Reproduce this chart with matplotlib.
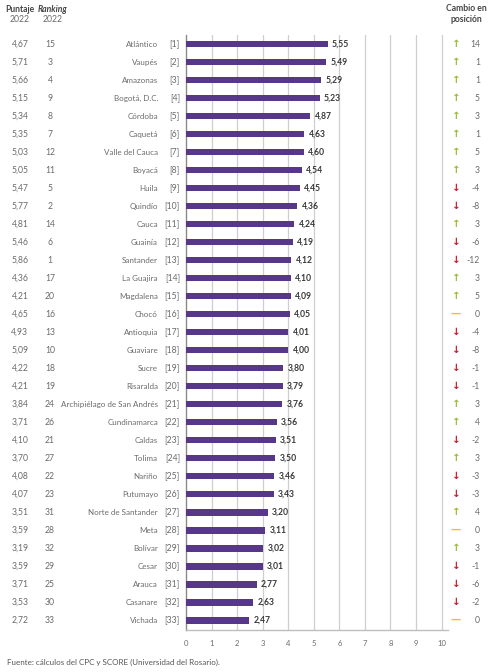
import numpy as np
import matplotlib.pyplot as plt

names = ['Atlántico', 'Vaupés', 'Amazonas', 'Bogotá, D.C.', 'Córdoba', 'Caquetá',
         'Valle del Cauca', 'Boyacá', 'Huila', 'Quindío', 'Cauca', 'Guainía',
         'Santander', 'La Guajira', 'Magdalena', 'Chocó', 'Antioquia', 'Guaviare',
         'Sucre', 'Risaralda', 'Archipiélago de San Andrés', 'Cundinamarca', 'Caldas',
         'Tolima', 'Nariño', 'Putumayo', 'Norte de Santander', 'Meta', 'Bolívar',
         'Cesar', 'Arauca', 'Casanare', 'Vichada']
score_2023 = [5.55, 5.49, 5.29, 5.23, 4.87, 4.63, 4.60, 4.54, 4.45, 4.36, 4.24,
              4.19, 4.12, 4.10, 4.09, 4.05, 4.01, 4.00, 3.80, 3.79, 3.76, 3.56,
              3.51, 3.50, 3.46, 3.43, 3.20, 3.11, 3.02, 3.01, 2.77, 2.63, 2.47]
score_2022 = [4.67, 5.71, 5.66, 5.15, 5.34, 5.35, 5.03, 5.05, 5.47, 5.77, 4.81,
              5.46, 5.86, 4.36, 4.21, 4.65, 4.93, 5.09, 4.22, 4.21, 3.84, 3.71,
              4.10, 3.70, 4.08, 4.07, 3.51, 3.59, 3.19, 3.59, 3.71, 3.53, 2.72]
rank_2022 = [15, 3, 4, 9, 8, 7, 12, 11, 5, 2, 14, 6, 1, 17, 20, 16, 13, 10, 18,
             19, 24, 26, 21, 27, 22, 23, 31, 28, 32, 29, 25, 30, 33]
change = [14, 1, 1, 5, 3, 1, 5, 3, -4, -8, 3, -6, -12, 3, 5, 0, -4, -8, -1, -1,
          3, 4, -2, 3, -3, -3, 4, 0, 3, -1, -6, -2, 0]
xticks = list(range(0, 11))

plt.rcParams['font.family'] = ['Lato', 'DejaVu Sans']

purple = '#573787'
grey = '#6b6b6b'
up_col = '#9dbb3c'
down_col = '#c8202f'
zero_col = '#f0c419'
fs = 6.2

fig = plt.figure(figsize=(4.96, 6.72), dpi=100)
ax = fig.add_axes([186 / 496, 42 / 672, 262 / 496, 595 / 672])

y = np.arange(len(names))
ax.barh(y, score_2023, height=0.38, color=purple, zorder=3)
ax.set_ylim(32.55, -0.5)
ax.set_xlim(0, 10.25)
ax.set_xticks(xticks)
ax.set_xticklabels([str(t) for t in xticks], fontsize=5.5, color=grey)
ax.tick_params(axis='x', length=0, pad=7)
ax.set_yticks([])
for t in xticks[1:]:
    ax.axvline(t, color='#cfcfcf', lw=0.9, zorder=1)
for s in ['top', 'right']:
    ax.spines[s].set_visible(False)
ax.spines['left'].set_color('#8a8a8a')
ax.spines['bottom'].set_color('#bdbdbd')
ax.spines['left'].set_linewidth(1.0)
ax.spines['bottom'].set_linewidth(1.0)

tr = ax.get_yaxis_transform()
for i in range(len(names)):
    ax.annotate(f'{score_2023[i]:.2f}'.replace('.', ','), (score_2023[i], i),
                xytext=(3, 0), textcoords='offset points', va='center',
                ha='left', fontsize=fs, fontweight='bold', color='#3a3a3a', zorder=4)
    ax.text(-0.634, i, f'{score_2022[i]:.2f}'.replace('.', ','), transform=tr,
            ha='center', va='center', fontsize=fs, color=grey)
    ax.text(-0.519, i, str(rank_2022[i]), transform=tr,
            ha='center', va='center', fontsize=fs, color=grey)
    ax.text(-0.107, i, names[i], transform=tr,
            ha='right', va='center', fontsize=5.8, color=grey)
    ax.text(-0.023, i, f'[{i + 1}]', transform=tr,
            ha='right', va='center', fontsize=fs, color=grey)
    c = change[i]
    if c > 0:
        sym, col = '↑', up_col
    elif c < 0:
        sym, col = '↓', down_col
    else:
        sym, col = '—', zero_col
    ax.text(1.031, i, sym, transform=tr, ha='center', va='center',
            fontsize=7.5, color=col, fontweight='bold', family='DejaVu Sans')
    ax.text(1.122, i, str(c), transform=tr, ha='right', va='center',
            fontsize=fs, color=grey)

fig.text(20 / 496, 1 - 9 / 672, 'Puntaje', ha='center', va='center',
         fontsize=fs, fontweight='bold', color='#444444')
fig.text(20 / 496, 1 - 19 / 672, '2022', ha='center', va='center',
         fontsize=fs, color=grey)
fig.text(53 / 496, 1 - 9 / 672, 'Ranking', ha='center', va='center',
         fontsize=fs, fontweight='bold', style='italic', color='#444444')
fig.text(53 / 496, 1 - 19 / 672, '2022', ha='center', va='center',
         fontsize=fs, color=grey)
fig.text(466 / 496, 1 - 14 / 672, 'Cambio en\nposición', ha='center', va='center',
         fontsize=fs, fontweight='bold', color='#444444', linespacing=1.15)
fig.text(7 / 496, 1 - 662 / 672, 'Fuente: cálculos del CPC y SCORE (Universidad del Rosario).',
         ha='left', va='center', fontsize=5.8, color='#555555')

fig.savefig('out.png', dpi=100, facecolor='white')
